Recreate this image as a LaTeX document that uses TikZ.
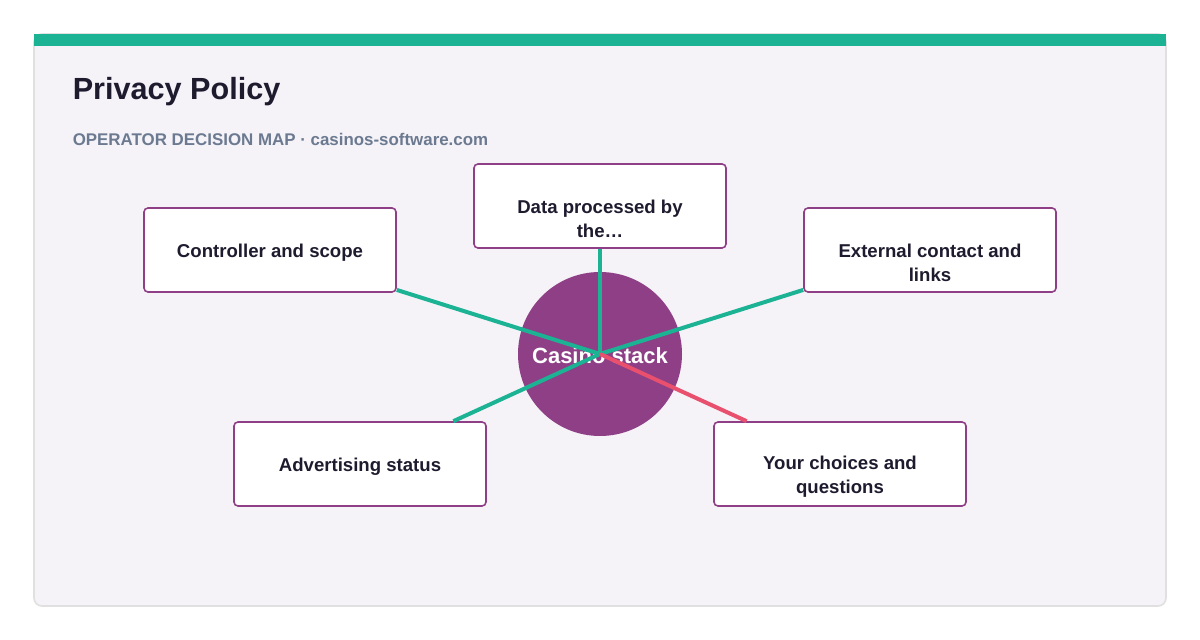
\documentclass[tikz,border=0pt]{standalone}
\usepackage{fontspec}
\setmainfont{Liberation Sans}
\usetikzlibrary{positioning}
\definecolor{teal}{HTML}{1BB394}
\definecolor{plum}{HTML}{8E3F86}
\definecolor{rosy}{HTML}{E8506E}
\definecolor{card}{HTML}{F5F2F8}
\definecolor{slate}{HTML}{6B7A90}
\definecolor{ink}{HTML}{1E1B2E}
\begin{document}
\begin{tikzpicture}
[x=0.5pt,y=-0.5pt,
 every node/.style={font=\bfseries\fontsize{9.3}{12}\selectfont,text=ink},
 box/.style={rectangle,draw=plum,line width=0.8pt,fill=white,rounded corners=2pt,
   minimum width=126pt,minimum height=42pt,align=center},
 oneline/.style={label={[yshift=-1.5pt]center:#1}},
 twoline/.style={label={[align=center,yshift=-6.5pt]center:#1}},
 hub/.style={circle,fill=plum,minimum size=82pt,inner sep=0pt},
 spoke/.style={teal,line width=2pt},
 thick]
\useasboundingbox (0,0) rectangle (1200,640);
\fill[white] (0,0) rectangle (1200,640);
\draw[draw=black!12,fill=card,rounded corners=4pt] (34,34) rectangle (1166,606);
\fill[teal] (34,34) rectangle (1166,46);
\node[anchor=west,inner sep=0pt,font=\bfseries\fontsize{15.3}{18}\selectfont] (title) at (72,92) {Privacy Policy};
\node[anchor=west,inner sep=0pt,text=slate,font=\bfseries\fontsize{8.45}{10}\selectfont] (sub) at (72,139) {OPERATOR DECISION MAP · casinos-software.com};
\node[hub] (hub) at (600,354) {};
\node[text=white,font=\bfseries\fontsize{11}{13}\selectfont] (hubtxt) at (600,356) {Casino stack};
\node[box,oneline={Controller and scope}] (ctrl) at (270,250) {};
\node[box,twoline={Data processed by\\the…}] (data) at (600,206) {};
\node[box,twoline={External contact and\\links}] (ext)  at (930,250) {};
\node[box,oneline={Advertising status}] (adv)  at (360,464) {};
\node[box,twoline={Your choices and\\questions}] (you)  at (840,464) {};
\draw[spoke] (hub.center) -- (ctrl);
\draw[spoke] (hub.center) -- (data);
\draw[spoke] (hub.center) -- (ext);
\draw[spoke] (hub.center) -- (adv);
\draw[spoke,rosy] (hub.center) -- (you);
\end{tikzpicture}
\end{document}
